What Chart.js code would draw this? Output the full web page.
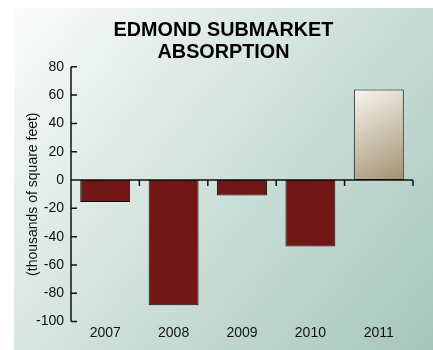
<!DOCTYPE html>
<html>
<head>
<meta charset="utf-8">
<script src="https://cdn.jsdelivr.net/npm/chart.js@4/dist/chart.umd.min.js"></script>
<style>
  html, body { margin: 0; padding: 0; background: #fff; }
</style>
</head>
<body>
<canvas id="absorption-chart" width="433" height="350"></canvas>
<script>
// Edmond submarket absorption (thousands of square feet)
const years = ["2007", "2008", "2009", "2010", "2011"];
const absorption = [-15.5, -88.5, -11, -47, 64];
const yTicks = [-100, -80, -60, -40, -20, 0, 20, 40, 60, 80];

Chart.defaults.font.family = "'Liberation Sans', Arial, Helvetica, sans-serif";
Chart.defaults.color = "#111";

// teal gradient panel behind everything
const panelBackground = {
  id: "panelBackground",
  beforeDraw(chart) {
    const { ctx, width, height } = chart;
    const g = ctx.createLinearGradient(14, 8, width, height);
    g.addColorStop(0, "#fbfcfb");
    g.addColorStop(0.45, "#d3e3de");
    g.addColorStop(1, "#a6c6bc");
    ctx.save();
    ctx.fillStyle = g;
    ctx.fillRect(14, 8, width - 14, height - 8);
    ctx.restore();
  }
};

// y axis with inward ticks, zero line with ticks between the years
const axisLines = {
  id: "axisLines",
  afterDatasetsDraw(chart) {
    const { ctx, chartArea, scales: { x, y } } = chart;
    const left = chartArea.left;
    ctx.save();
    ctx.strokeStyle = "#111";
    ctx.lineWidth = 1.5;
    ctx.beginPath();
    ctx.moveTo(left, y.getPixelForValue(yTicks[yTicks.length - 1]));
    ctx.lineTo(left, y.getPixelForValue(yTicks[0]));
    yTicks.forEach(v => {
      const py = y.getPixelForValue(v);
      ctx.moveTo(left, py);
      ctx.lineTo(left + 6, py);
    });
    const y0 = y.getPixelForValue(0);
    ctx.moveTo(left, y0);
    ctx.lineTo(chartArea.right, y0);
    for (let i = 1; i <= years.length; i++) {
      const px = x.getPixelForValue(i - 0.5);
      ctx.moveTo(px, y0);
      ctx.lineTo(px, y0 + 6);
    }
    ctx.stroke();
    ctx.restore();
  }
};

const barFill = (c) => {
  const v = c.raw;
  if (v < 0) return "#701614";
  const chart = c.chart;
  if (!chart.chartArea) return "#d6cbb2";
  const { x, y } = chart.scales;
  const cx = x.getPixelForValue(c.dataIndex);
  const half = (x.width / years.length) * 0.73 / 2;
  const g = chart.ctx.createLinearGradient(cx - half, y.getPixelForValue(v), cx + half, y.getPixelForValue(0));
  g.addColorStop(0, "#f8f6f1");
  g.addColorStop(1, "#a29170");
  return g;
};

new Chart("absorption-chart", {
  type: "bar",
  data: {
    labels: years,
    datasets: [{
      data: absorption,
      backgroundColor: barFill,
      borderColor: "#111",
      borderWidth: 1,
      borderSkipped: false,
      categoryPercentage: 1,
      barPercentage: 0.73
    }]
  },
  options: {
    responsive: false,
    animation: false,
    layout: { padding: { left: 14, top: 8, right: 0, bottom: 5.2 } },
    plugins: {
      legend: { display: false },
      tooltip: { enabled: false },
      title: {
        display: true,
        text: ["EDMOND SUBMARKET", "ABSORPTION"],
        color: "#000",
        font: { size: 19.8, weight: "bold", lineHeight: 1.126 },
        padding: { top: 11.5, bottom: 2.7 }
      }
    },
    scales: {
      x: {
        offset: true,
        grid: { display: false, drawTicks: false },
        border: { display: false },
        ticks: { padding: 3.2, font: { size: 14 }, color: "#111" }
      },
      y: {
        min: -100,
        max: 80,
        grid: { display: false, drawTicks: false },
        border: { display: false },
        ticks: { stepSize: 20, padding: 7, font: { size: 14 }, color: "#111" },
        title: {
          display: true,
          text: "(thousands of square feet)",
          color: "#111",
          font: { size: 14 },
          padding: { top: 10.6, bottom: 0 }
        },
        afterFit(scale) { scale.width = 57; }
      },
      // empty strip on the right so the plot ends short of the panel edge
      gutter: {
        position: "right",
        grid: { display: false, drawTicks: false },
        border: { display: false },
        ticks: { display: false },
        afterFit(scale) { scale.width = 20; }
      }
    }
  },
  plugins: [panelBackground, axisLines]
});
</script>
</body>
</html>
